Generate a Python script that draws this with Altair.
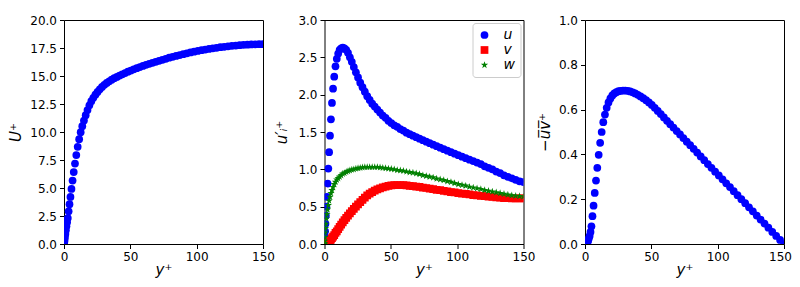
import altair as alt
import pandas as pd

FONT = "DejaVu Sans"

# wall-normal grid positions y+
yplus = [0.00, 0.03, 0.12, 0.26, 0.46, 0.72, 1.04, 1.41, 1.85, 2.34,
         2.88, 3.49, 4.15, 4.86, 5.63, 6.46, 7.34, 8.28, 9.27, 10.32,
         11.42, 12.57, 13.78, 15.04, 16.35, 17.71, 19.13, 20.59, 22.10, 23.67,
         25.28, 26.94, 28.65, 30.40, 32.20, 34.05, 35.94, 37.87, 39.85, 41.87,
         43.93, 46.04, 48.18, 50.36, 52.58, 54.84, 57.14, 59.47, 61.83, 64.23,
         66.66, 69.13, 71.63, 74.15, 76.71, 79.29, 81.90, 84.54, 87.20, 89.89,
         92.60, 95.33, 98.08, 100.86, 103.65, 106.46, 109.28, 112.13, 114.98, 117.85,
         120.74, 123.63, 126.53, 129.45, 132.37, 135.30, 138.23, 141.17, 144.11, 147.05,
         150.00]

U_mean = [0.00, 0.03, 0.10, 0.22, 0.40, 0.62, 0.90, 1.22, 1.58, 1.95,
          2.32, 2.92, 3.56, 4.20, 4.92, 5.66, 6.42, 7.18, 7.94, 8.68,
          9.36, 9.98, 10.52, 11.02, 11.50, 11.96, 12.38, 12.75, 13.05, 13.33,
          13.58, 13.81, 14.02, 14.21, 14.38, 14.53, 14.67, 14.80, 14.92, 15.04,
          15.15, 15.26, 15.38, 15.49, 15.60, 15.70, 15.80, 15.90, 16.00, 16.09,
          16.18, 16.27, 16.36, 16.45, 16.54, 16.63, 16.71, 16.79, 16.87, 16.95,
          17.03, 17.10, 17.17, 17.24, 17.30, 17.36, 17.42, 17.47, 17.52, 17.57,
          17.61, 17.65, 17.69, 17.72, 17.75, 17.78, 17.80, 17.82, 17.83, 17.84,
          17.84]

u_rms = [0.00, 0.01, 0.04, 0.10, 0.17, 0.27, 0.38, 0.50, 0.63, 0.81,
         1.01, 1.23, 1.45, 1.67, 1.89, 2.08, 2.24, 2.38, 2.48, 2.55,
         2.60, 2.62, 2.63, 2.62, 2.60, 2.56, 2.50, 2.44, 2.37, 2.30,
         2.23, 2.16, 2.10, 2.04, 1.98, 1.93, 1.88, 1.84, 1.80, 1.76,
         1.72, 1.69, 1.65, 1.62, 1.59, 1.57, 1.54, 1.52, 1.49, 1.47,
         1.45, 1.43, 1.41, 1.39, 1.37, 1.35, 1.33, 1.31, 1.29, 1.27,
         1.25, 1.23, 1.21, 1.19, 1.17, 1.15, 1.13, 1.11, 1.09, 1.07,
         1.04, 1.02, 1.00, 0.97, 0.95, 0.92, 0.90, 0.88, 0.86, 0.84,
         0.83]

v_rms = [0.00, 0.00, 0.00, 0.00, 0.00, 0.00, 0.00, 0.01, 0.01, 0.02,
         0.02, 0.03, 0.05, 0.06, 0.08, 0.10, 0.12, 0.15, 0.17, 0.20,
         0.23, 0.26, 0.29, 0.32, 0.35, 0.38, 0.41, 0.44, 0.47, 0.50,
         0.53, 0.56, 0.59, 0.62, 0.65, 0.675, 0.695, 0.715, 0.73, 0.745,
         0.76, 0.77, 0.78, 0.785, 0.79, 0.79, 0.79, 0.79, 0.785, 0.78,
         0.775, 0.77, 0.765, 0.755, 0.75, 0.74, 0.735, 0.725, 0.72, 0.71,
         0.705, 0.695, 0.69, 0.68, 0.675, 0.67, 0.665, 0.655, 0.65, 0.645,
         0.64, 0.635, 0.63, 0.625, 0.62, 0.615, 0.615, 0.61, 0.61, 0.61,
         0.61]

w_rms = [0.00, 0.01, 0.04, 0.09, 0.15, 0.21, 0.27, 0.34, 0.40, 0.46,
         0.52, 0.58, 0.63, 0.68, 0.72, 0.76, 0.80, 0.83, 0.86, 0.88,
         0.90, 0.92, 0.94, 0.95, 0.965, 0.975, 0.985, 0.995, 1.00, 1.01,
         1.015, 1.02, 1.025, 1.03, 1.03, 1.03, 1.03, 1.03, 1.03, 1.025,
         1.02, 1.015, 1.01, 1.005, 1.00, 0.99, 0.985, 0.98, 0.97, 0.96,
         0.955, 0.945, 0.935, 0.92, 0.91, 0.90, 0.89, 0.875, 0.865, 0.855,
         0.84, 0.83, 0.815, 0.80, 0.79, 0.78, 0.765, 0.755, 0.745, 0.735,
         0.72, 0.71, 0.70, 0.69, 0.68, 0.67, 0.66, 0.65, 0.645, 0.64,
         0.635]

uv_stress = [0.000, 0.000, 0.000, 0.000, 0.000, 0.001, 0.002, 0.004, 0.008, 0.014,
             0.024, 0.036, 0.054, 0.079, 0.124, 0.171, 0.228, 0.283, 0.340, 0.398,
             0.452, 0.500, 0.544, 0.578, 0.608, 0.632, 0.650, 0.663, 0.672, 0.678,
             0.682, 0.684, 0.685, 0.685, 0.684, 0.681, 0.677, 0.672, 0.666, 0.659,
             0.651, 0.642, 0.632, 0.621, 0.608, 0.594, 0.580, 0.565, 0.550, 0.535,
             0.520, 0.504, 0.489, 0.473, 0.457, 0.441, 0.425, 0.408, 0.391, 0.374,
             0.357, 0.340, 0.323, 0.306, 0.289, 0.271, 0.254, 0.236, 0.218, 0.200,
             0.182, 0.164, 0.146, 0.127, 0.109, 0.091, 0.073, 0.054, 0.036, 0.018,
             0.000]

components = ["u", "v", "w"]
comp_colors = ["#0000ff", "#ff0000", "#008000"]
STAR = ("M0,-1L0.2245,-0.309L0.951,-0.309L0.363,0.118L0.588,0.809L0,0.382"
        "L-0.588,0.809L-0.363,0.118L-0.951,-0.309L-0.2245,-0.309Z")
comp_shapes = ["circle", "square", STAR]

x_ticks = [0, 50, 100, 150]
U_ticks = [0, 2.5, 5, 7.5, 10, 12.5, 15, 17.5, 20]
rms_ticks = [0, 0.5, 1, 1.5, 2, 2.5, 3]
uv_ticks = [0, 0.2, 0.4, 0.6, 0.8, 1.0]

W, H = 199, 224
MS = 60


def xenc(last_shift=0):
    kw = {}
    if last_shift:
        kw["labelOffset"] = {"condition": {"test": "datum.value === 150", "value": last_shift},
                             "value": 0}
    return alt.X("y:Q", scale=alt.Scale(domain=[0, 150], nice=False, zero=False, padding=0),
                 axis=alt.Axis(values=x_ticks, format="d", title="y⁺", titlePadding=0,
                               labelFlush=False, **kw))


def yscale(hi):
    return alt.Scale(domain=[0, hi], nice=False, zero=False, padding=0)


df1 = pd.DataFrame({"y": yplus, "val": U_mean})
p1 = alt.Chart(df1).mark_circle(size=MS, color="#0000ff", opacity=1, clip=True).encode(
    x=xenc(),
    y=alt.Y("val:Q", scale=yscale(20),
            axis=alt.Axis(values=U_ticks, format=".1f", title="U⁺", titlePadding=6)),
).properties(width=W, height=H)

rows = []
for name, series in zip(components, [u_rms, v_rms, w_rms]):
    for yv, val in zip(yplus, series):
        rows.append({"y": yv, "val": val, "comp": name})
df2 = pd.DataFrame(rows)

p2 = alt.Chart(df2).mark_point(filled=True, opacity=1, clip=True).encode(
    x=xenc(),
    y=alt.Y("val:Q", scale=yscale(3),
            axis=alt.Axis(values=rms_ticks, format=".1f", title="u′ᵢ⁺", titlePadding=8)),
    color=alt.Color("comp:N", scale=alt.Scale(domain=components, range=comp_colors),
                    legend=alt.Legend(title=None, orient="top-right", offset=3,
                                      fillColor="white", strokeColor="#cccccc",
                                      cornerRadius=3, padding=5,
                                      labelFont=FONT, labelFontSize=14,
                                      labelFontStyle="italic", labelColor="black",
                                      symbolSize=60, rowPadding=1, labelOffset=12)),
    shape=alt.Shape("comp:N", scale=alt.Scale(domain=components, range=comp_shapes)),
    size=alt.Size("comp:N", scale=alt.Scale(domain=components, range=[MS, MS, 48]),
                  legend=None),
).properties(width=W, height=H)

df3 = pd.DataFrame({"y": yplus, "val": uv_stress})
p3 = alt.Chart(df3).mark_circle(size=MS, color="#0000ff", opacity=1, clip=True).encode(
    x=xenc(last_shift=-4),
    y=alt.Y("val:Q", scale=yscale(1),
            axis=alt.Axis(values=uv_ticks, format=".1f", title="−u̅v̅⁺", titlePadding=6)),
).properties(width=W, height=H)

chart = alt.hconcat(p1, p2, p3, spacing=61.5, bounds="flush").resolve_legend(
    color="independent", shape="independent", size="independent"
).resolve_scale(
    color="independent", shape="independent", size="independent"
).properties(
    padding={"left": 0, "top": 5, "right": 0, "bottom": 0},
    background="white",
).configure_view(
    stroke="black", strokeWidth=1
).configure_axis(
    domain=False, grid=False, ticks=True, tickColor="black", tickSize=4.5,
    labelFont=FONT, labelFontSize=12, labelColor="black", labelPadding=3,
    titleFont=FONT, titleFontSize=15, titleFontWeight="normal",
    titleFontStyle="italic", titleColor="black",
)

chart.save("out.html", embed_options={"renderer": "svg", "actions": False})
